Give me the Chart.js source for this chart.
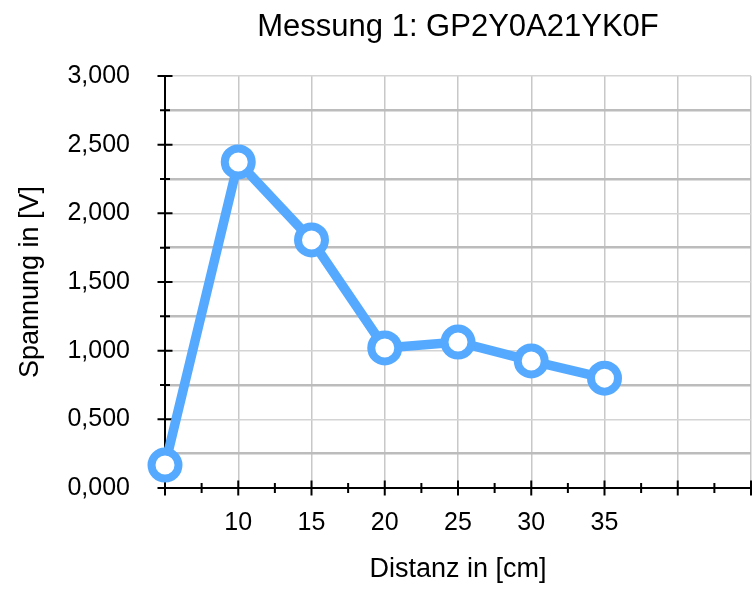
<!DOCTYPE html>
<html>
<head>
<meta charset="utf-8">
<script src="https://cdn.jsdelivr.net/npm/chart.js@4"></script>
<style>
  html, body { margin: 0; padding: 0; background: #fff; overflow: hidden; }
  canvas { display: block; }
</style>
</head>
<body>
<canvas id="sensorChart" width="754" height="592"></canvas>
<script>
// Messwerte
const distances = [5, 10, 15, 20, 25, 30, 35];
const voltages = [0.167, 2.374, 1.806, 1.02, 1.063, 0.925, 0.80];
const xTickLabels = [10, 15, 20, 25, 30, 35];
const titleText = "Messung 1: GP2Y0A21YK0F";

const FONT = "'Liberation Sans', Arial, Helvetica, sans-serif";
const lineColor = "#55aaff";

// title centred over the plot area, not the canvas
const plotTitle = {
  id: "plotTitle",
  afterDraw(chart) {
    const ctx = chart.ctx;
    const a = chart.chartArea;
    ctx.save();
    ctx.font = "31px " + FONT;
    ctx.fillStyle = "#000";
    ctx.textAlign = "center";
    ctx.textBaseline = "middle";
    ctx.fillText(titleText, (a.left + a.right) / 2, 27);
    ctx.restore();
  }
};

// tick marks that cross the axis line
const crossTicks = {
  id: "crossTicks",
  beforeDatasetsDraw(chart) {
    const ctx = chart.ctx;
    const xs = chart.scales.x, ys = chart.scales.y;
    ctx.save();
    ctx.strokeStyle = "#000";
    ctx.lineWidth = 2;
    ctx.beginPath();
    ys.ticks.forEach((t) => {
      const y = ys.getPixelForValue(t.value);
      const major = Math.abs(t.value / 0.5 - Math.round(t.value / 0.5)) < 1e-6;
      const len = major ? 7.5 : 5;
      ctx.moveTo(ys.right - len, y);
      ctx.lineTo(ys.right + len, y);
    });
    xs.ticks.forEach((t) => {
      const x = xs.getPixelForValue(t.value);
      const major = t.value % 5 === 0;
      const len = major ? 7.5 : 5;
      ctx.moveTo(x, xs.top - len);
      ctx.lineTo(x, xs.top + len);
    });
    ctx.stroke();
    ctx.restore();
  }
};

const points = distances.map((d, i) => ({ x: d, y: voltages[i] }));

const ctx = document.getElementById("sensorChart").getContext("2d");
new Chart(ctx, {
  type: "line",
  data: {
    datasets: [{
      data: points,
      borderColor: lineColor,
      borderWidth: 9.5,
      pointRadius: 13.5,
      pointHoverRadius: 13.5,
      pointBorderWidth: 8,
      pointBackgroundColor: "#fff",
      pointBorderColor: lineColor,
      tension: 0,
      clip: false
    }]
  },
  options: {
    responsive: false,
    animation: false,
    // no auto padding, otherwise the big markers push the right edge in
    layout: { autoPadding: false, padding: { top: 76, right: 3, left: 0, bottom: 0 } },
    plugins: {
      legend: { display: false },
      title: { display: false },
      tooltip: { enabled: false }
    },
    scales: {
      x: {
        type: "linear",
        min: 5,
        max: 45,
        afterFit(s) { s.height = 104; },
        ticks: {
          stepSize: 2.5,
          autoSkip: false,
          maxRotation: 0,
          padding: 0,
          color: "#000",
          font: { family: FONT, size: 25 },
          callback: (v) => (xTickLabels.includes(v) ? String(v) : "")
        },
        grid: {
          drawTicks: true,
          tickLength: 20,
          tickColor: "rgba(0,0,0,0)",
          color: (c) => (c.tick && c.tick.value % 5 === 0 ? "#c8c8c8" : "rgba(0,0,0,0)"),
          lineWidth: 1.5
        },
        border: { color: "#000", width: 2 },
        title: {
          display: true,
          text: "Distanz in [cm]",
          color: "#000",
          font: { family: FONT, size: 27 },
          padding: { top: 0, bottom: 6 }
        }
      },
      y: {
        min: 0,
        max: 3,
        afterFit(s) { s.width = 165; },
        ticks: {
          stepSize: 0.25,
          autoSkip: false,
          padding: 35,
          color: "#000",
          font: { family: FONT, size: 25 },
          callback: (v) => {
            const r = v / 0.5;
            return Math.abs(r - Math.round(r)) < 1e-6 ? v.toFixed(3).replace(".", ",") : "";
          }
        },
        grid: {
          drawTicks: false,
          color: (c) => {
            const r = c.tick ? c.tick.value / 0.5 : 0;
            return Math.abs(r - Math.round(r)) < 1e-6 ? "#d4d4d4" : "#bcbcbc";
          },
          lineWidth: (c) => {
            const r = c.tick ? c.tick.value / 0.5 : 0;
            return Math.abs(r - Math.round(r)) < 1e-6 ? 1.5 : 2.5;
          }
        },
        border: { color: "#000", width: 2 },
        title: {
          display: true,
          text: "Spannung in [V]",
          color: "#000",
          font: { family: FONT, size: 27 },
          padding: { top: 14, bottom: 0 }
        }
      }
    }
  },
  plugins: [crossTicks, plotTitle]
});
</script>
</body>
</html>
